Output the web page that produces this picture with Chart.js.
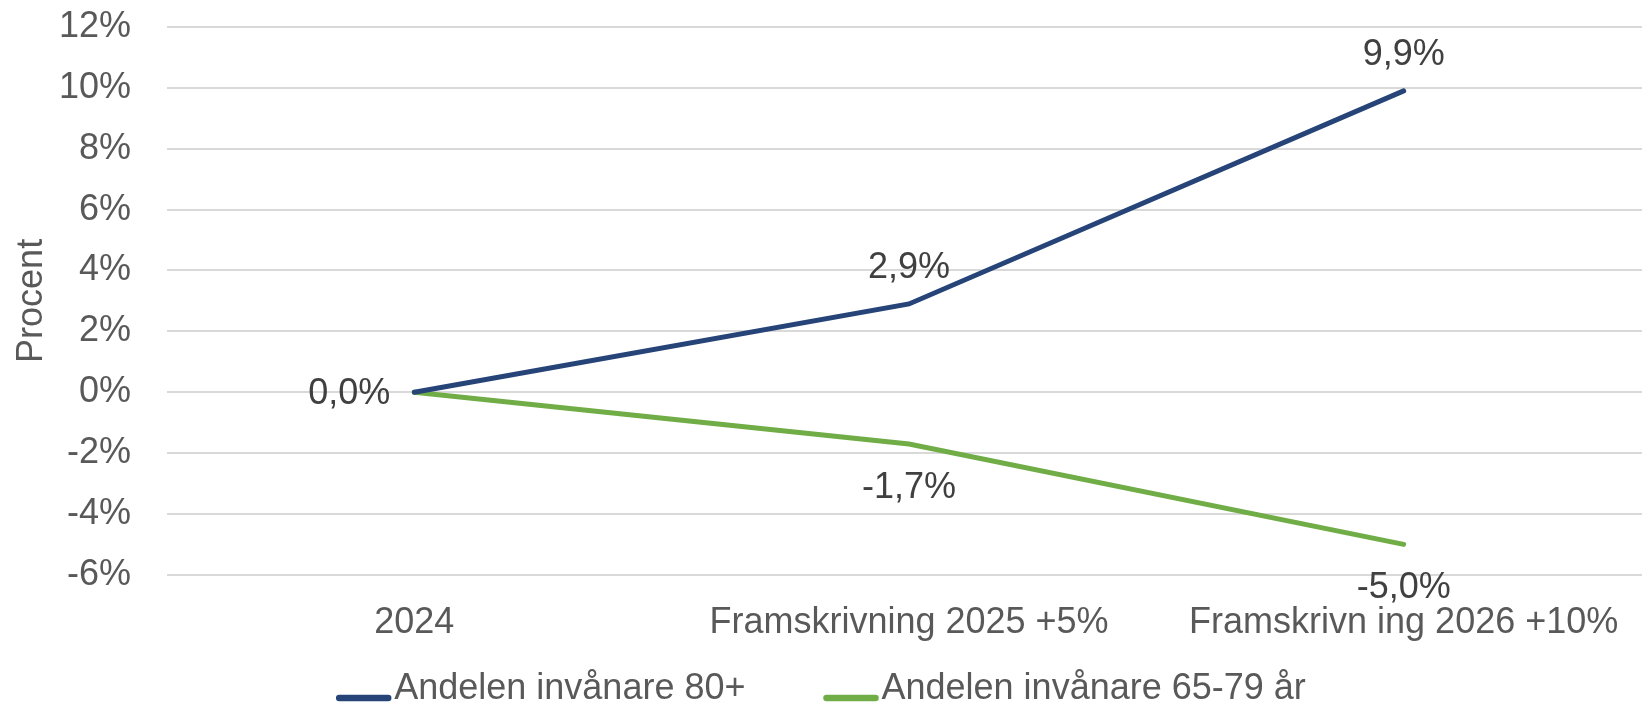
<!DOCTYPE html>
<html>
<head>
<meta charset="utf-8">
<script src="https://cdn.jsdelivr.net/npm/chart.js@4"></script>
<style>
  html, body { margin: 0; padding: 0; background: #fff; overflow: hidden; }
  /* a bit wider than the window: the plot runs off the right edge like in the original */
  #wrap { width: 1651px; height: 703px; }
</style>
</head>
<body>
<div id="wrap"><canvas id="chart"></canvas></div>
<script>
//======================== data ===============================
const categories = ["2024", "Framskrivning 2025 +5%", "Framskrivn ing 2026 +10%"];
const seriesNames = ["Andelen invånare 80+", "Andelen invånare 65-79 år"];
const values80 = [0.0, 2.9, 9.9];
const values6579 = [0.0, -1.7, -5.0];
const yTicks = [-6, -4, -2, 0, 2, 4, 6, 8, 10, 12];

const fontFamily = "'Liberation Sans', Arial, sans-serif";
const blue = "#264478";
const green = "#70AD47";
const viewWidth = 1642;

// value labels next to each point (0,0% only once, both lines start there)
const pointLabels = {
  id: "pointLabels",
  afterDatasetsDraw(chart) {
    const ctx = chart.ctx;
    ctx.save();
    ctx.font = "36px " + fontFamily;
    ctx.fillStyle = "#404040";
    ctx.textBaseline = "middle";
    chart.data.datasets.forEach((ds, di) => {
      const meta = chart.getDatasetMeta(di);
      meta.data.forEach((pt, i) => {
        if (i === 0 && di > 0) return;
        const txt = ds.data[i].toFixed(1).replace(".", ",") + "%";
        if (i === 0) {
          ctx.textAlign = "right";
          ctx.fillText(txt, pt.x - 24, pt.y + 2);
        } else if (di === 0) {
          ctx.textAlign = "center";
          ctx.fillText(txt, pt.x, pt.y - 36);
        } else {
          ctx.textAlign = "center";
          ctx.fillText(txt, pt.x, pt.y + 44);
        }
      });
    });
    ctx.restore();
  },
};

// legend at the bottom: short line then text, like the excel one
const lineLegend = {
  id: "lineLegend",
  afterDraw(chart) {
    const ctx = chart.ctx;
    const lineW = 55;
    const gapText = 3;
    const gapItem = 78;
    ctx.save();
    ctx.font = "36px " + fontFamily;
    const items = chart.data.datasets.map((ds) => ({
      text: ds.label,
      color: ds.borderColor,
      w: lineW + gapText + ctx.measureText(ds.label).width,
    }));
    const total = items.reduce((s, it) => s + it.w, 0) + gapItem * (items.length - 1);
    let x = viewWidth / 2 - total / 2;
    const y = 699; // text baseline, the bottom of the text is cut off
    items.forEach((it) => {
      ctx.strokeStyle = it.color;
      ctx.lineWidth = 6.5;
      ctx.lineCap = "round";
      ctx.beginPath();
      ctx.moveTo(x + 3, y - 1);
      ctx.lineTo(x + lineW - 3, y - 1);
      ctx.stroke();
      ctx.fillStyle = "#595959";
      ctx.textAlign = "left";
      ctx.textBaseline = "alphabetic";
      ctx.fillText(it.text, x + lineW + gapText, y);
      x += it.w + gapItem;
    });
    ctx.restore();
  },
};

const config = {
  type: "line",
  data: {
    labels: categories,
    datasets: [
      {
        label: seriesNames[0],
        data: values80,
        borderColor: blue,
        backgroundColor: blue,
        borderWidth: 5,
        borderCapStyle: "round",
        tension: 0,
        pointRadius: 0,
      },
      {
        label: seriesNames[1],
        data: values6579,
        borderColor: green,
        backgroundColor: green,
        borderWidth: 5,
        borderCapStyle: "round",
        tension: 0,
        pointRadius: 0,
      },
    ],
  },
  options: {
    responsive: true,
    maintainAspectRatio: false,
    animation: false,
    layout: {
      padding: { top: 27, bottom: 31, left: 0, right: 0 },
    },
    plugins: {
      legend: { display: false },
      tooltip: { enabled: false },
    },
    scales: {
      x: {
        offset: true,
        grid: { display: false, drawTicks: false },
        border: { display: false },
        ticks: {
          color: "#595959",
          padding: 27,
          maxRotation: 0,
          autoSkip: false,
          font: { family: fontFamily, size: 36 },
        },
      },
      y: {
        min: yTicks[0],
        max: yTicks[yTicks.length - 1],
        afterBuildTicks: (axis) => {
          axis.ticks = yTicks.map((v) => ({ value: v }));
        },
        // fixed axis width, the tick padding is otherwise counted twice
        afterFit: (axis) => {
          axis.width = 167;
          axis.paddingTop = 0;
          axis.paddingBottom = 0;
        },
        grid: { color: "#D9D9D9", lineWidth: 2, drawTicks: false },
        border: { display: false },
        ticks: {
          color: "#595959",
          padding: 36,
          font: { family: fontFamily, size: 36 },
          callback: (v) => v + "%",
        },
        title: {
          display: true,
          text: "Procent",
          color: "#595959",
          padding: { top: 10, bottom: 9 },
          font: { family: fontFamily, size: 36 },
        },
      },
    },
  },
  plugins: [pointLabels, lineLegend],
};

let chart = new Chart(document.getElementById("chart"), config);
</script>
</body>
</html>
